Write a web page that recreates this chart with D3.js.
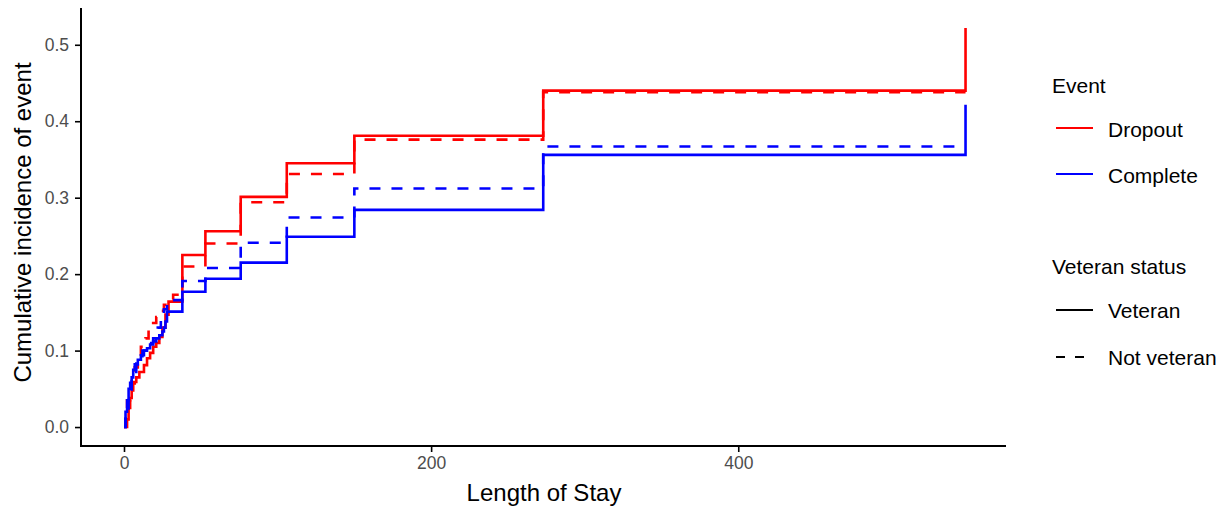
<!DOCTYPE html>
<html>
<head>
<meta charset="utf-8">
<script src="https://cdn.jsdelivr.net/npm/d3@7"></script>
<style>
  html, body { margin: 0; padding: 0; background: #fff; }
  svg { display: block; font-family: "Liberation Sans", Arial, Helvetica, sans-serif; }
</style>
</head>
<body>
<svg id="chart" width="1227" height="512"></svg>
<script>
// ---- Data ----
const xTicks = [0, 200, 400];
const yTicks = [0.0, 0.1, 0.2, 0.3, 0.4, 0.5];

const eventLevels = ["Dropout", "Complete"];
const eventColors = ["#FF0000", "#0000FF"];
const statusLevels = ["Veteran", "Not veteran"];

// Dropout, Veteran (solid red)
const dropVetTime = [0, 2, 3, 4, 5, 6, 8, 10, 13, 15, 17, 19, 21, 23, 25, 27, 29, 38, 53, 76, 106, 150, 273, 548, 548];
const dropVetInc  = [0, 0.010, 0.025, 0.038, 0.048, 0.059, 0.065, 0.072, 0.081, 0.090, 0.097, 0.105, 0.110, 0.118, 0.130, 0.147, 0.164, 0.225, 0.256, 0.301, 0.345, 0.381, 0.440, 0.440, 0.522];

// Dropout, Not veteran (dashed red)
const dropNonTime = [0, 1, 2, 4, 5, 7, 9, 11, 14, 16, 19, 21, 24, 26, 29, 32, 38, 53, 76, 106, 150, 273, 548];
const dropNonInc  = [0, 0.020, 0.035, 0.048, 0.057, 0.078, 0.090, 0.105, 0.116, 0.127, 0.136, 0.144, 0.152, 0.160, 0.167, 0.173, 0.210, 0.240, 0.294, 0.331, 0.376, 0.438, 0.438];

// Complete, Veteran (solid blue)
const compVetTime = [0, 1, 2, 3, 4, 5, 6, 7, 9, 11, 13, 15, 17, 19, 21, 23, 25, 26, 27, 28, 38, 53, 76, 106, 150, 273, 548, 548];
const compVetInc  = [0, 0.020, 0.035, 0.050, 0.058, 0.065, 0.075, 0.082, 0.088, 0.094, 0.100, 0.103, 0.108, 0.112, 0.116, 0.120, 0.125, 0.130, 0.138, 0.151, 0.177, 0.194, 0.215, 0.249, 0.284, 0.356, 0.356, 0.4215];

// Complete, Not veteran (dashed blue)
const compNonTime = [0, 1, 3, 5, 8, 12, 16, 19, 22, 24, 26, 28, 30, 38, 53, 76, 106, 150, 273, 548];
const compNonInc  = [0, 0.020, 0.045, 0.065, 0.085, 0.100, 0.110, 0.116, 0.130, 0.144, 0.154, 0.162, 0.166, 0.191, 0.208, 0.241, 0.274, 0.312, 0.367, 0.367];

const seriesList = [
  { event: "Dropout",  status: "Veteran",     time: dropVetTime, inc: dropVetInc },
  { event: "Dropout",  status: "Not veteran", time: dropNonTime, inc: dropNonInc },
  { event: "Complete", status: "Veteran",     time: compVetTime, inc: compVetInc },
  { event: "Complete", status: "Not veteran", time: compNonTime, inc: compNonInc }
];

// ---- Layout ----
const svg = d3.select("#chart");
const panel = { left: 82, right: 1006, top: 8, bottom: 447 };

const x = d3.scaleLinear().domain([-27.35, 574.35]).range([panel.left, panel.right]);
const y = d3.scaleLinear().domain([-0.0261, 0.5481]).range([panel.bottom, panel.top]);

const color = d3.scaleOrdinal().domain(eventLevels).range(eventColors);
const dash = d3.scaleOrdinal().domain(statusLevels).range(["none", "11,11"]);

// ---- Series ----
const line = d3.line()
  .x(d => x(d[0]))
  .y(d => y(d[1]))
  .curve(d3.curveStepAfter);

svg.append("g").selectAll("path")
  .data(seriesList)
  .join("path")
  .attr("d", s => line(s.time.map((t, i) => [t, s.inc[i]])))
  .attr("fill", "none")
  .attr("stroke", s => color(s.event))
  .attr("stroke-dasharray", s => dash(s.status))
  .attr("stroke-width", 2.6)
  .attr("stroke-linejoin", "miter");

// ---- Axes ----
const axisColor = "#000";
const tickText = "#4d4d4d";

const xAxis = svg.append("g")
  .attr("transform", `translate(0,${panel.bottom - 1})`)
  .call(d3.axisBottom(x).tickValues(xTicks).tickSize(6).tickPadding(5).tickFormat(d3.format("d")));
xAxis.select(".domain").remove();
xAxis.selectAll(".tick line").attr("stroke", axisColor).attr("stroke-width", 1.6);
xAxis.selectAll(".tick text").attr("fill", tickText).attr("font-size", 17.5).attr("font-family", "Liberation Sans, Arial, sans-serif");

const yAxis = svg.append("g")
  .attr("transform", `translate(${panel.left - 1},0)`)
  .call(d3.axisLeft(y).tickValues(yTicks).tickSize(6).tickPadding(6).tickFormat(d3.format(".1f")));
yAxis.select(".domain").remove();
yAxis.selectAll(".tick line").attr("stroke", axisColor).attr("stroke-width", 1.6);
yAxis.selectAll(".tick text").attr("fill", tickText).attr("font-size", 17.5).attr("font-family", "Liberation Sans, Arial, sans-serif");

// axis lines
svg.append("line")
  .attr("x1", panel.left - 1).attr("x2", panel.left - 1)
  .attr("y1", panel.top).attr("y2", panel.bottom - 1)
  .attr("stroke", axisColor).attr("stroke-width", 2);
svg.append("line")
  .attr("x1", panel.left - 2).attr("x2", panel.right)
  .attr("y1", panel.bottom - 1).attr("y2", panel.bottom - 1)
  .attr("stroke", axisColor).attr("stroke-width", 2);

// axis titles
svg.append("text")
  .attr("x", (panel.left + panel.right) / 2)
  .attr("y", 501)
  .attr("text-anchor", "middle")
  .attr("font-size", 24)
  .attr("fill", "#000")
  .text("Length of Stay");

svg.append("text")
  .attr("transform", `translate(31,${(panel.top + panel.bottom) / 2 - 5}) rotate(-90)`)
  .attr("text-anchor", "middle")
  .attr("font-size", 24)
  .attr("fill", "#000")
  .text("Cumulative incidence of event");

// ---- Legends ----
const legend = svg.append("g");
const keyX1 = 1056, keyX2 = 1093, labelX = 1108;

legend.append("text").attr("x", 1052).attr("y", 93).attr("font-size", 21).attr("fill", "#000").text("Event");
const evRows = [128, 174];
eventLevels.forEach((ev, i) => {
  legend.append("line")
    .attr("x1", keyX1).attr("x2", keyX2)
    .attr("y1", evRows[i]).attr("y2", evRows[i])
    .attr("stroke", color(ev)).attr("stroke-width", 2.2);
  legend.append("text").attr("x", labelX).attr("y", evRows[i] + 9)
    .attr("font-size", 21).attr("fill", "#000").text(ev);
});

legend.append("text").attr("x", 1052).attr("y", 274).attr("font-size", 21).attr("fill", "#000").text("Veteran status");
const stRows = [310, 357];
statusLevels.forEach((st, i) => {
  legend.append("line")
    .attr("x1", keyX1).attr("x2", keyX2)
    .attr("y1", stRows[i]).attr("y2", stRows[i])
    .attr("stroke", "#000")
    .attr("stroke-dasharray", i === 0 ? "none" : "9,10")
    .attr("stroke-width", 2.2);
  legend.append("text").attr("x", labelX).attr("y", stRows[i] + 8)
    .attr("font-size", 21).attr("fill", "#000").text(st);
});
</script>
</body>
</html>
